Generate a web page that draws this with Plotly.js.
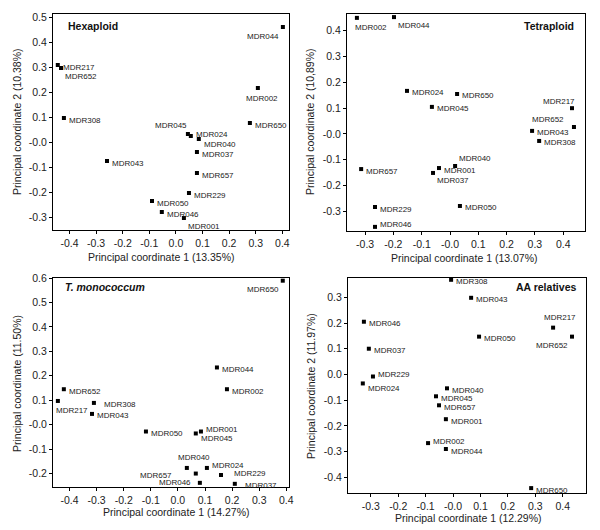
<!DOCTYPE html>
<html>
<head>
<meta charset="utf-8">
<script src="https://cdn.plot.ly/plotly-3.0.1.min.js"></script>
<style>html,body{margin:0;padding:0;background:#fff;}#chart{width:600px;height:530px;}</style>
</head>
<body>
<div id="chart"></div>
<script>
// ---------- DATA ----------
// Hexaploid
const hexNames = ["MDR044","MDR217","MDR652","MDR308","MDR002","MDR650","MDR045","MDR024","MDR040","MDR037","MDR043","MDR657","MDR229","MDR050","MDR046","MDR001"];
const hexX = [0.402,-0.444,-0.432,-0.421,0.308,0.278,0.045,0.056,0.086,0.079,-0.259,0.079,0.049,-0.090,-0.053,0.030];
const hexY = [0.462,0.310,0.298,0.098,0.218,0.078,0.034,0.026,0.014,-0.038,-0.074,-0.122,-0.202,-0.234,-0.278,-0.302];
const hexLabelPos = ["bl","r","br","r","b","r","al","ru","rd","r","r","r","r","r","r","br"];

// Tetraploid
const tetNames = ["MDR002","MDR044","MDR024","MDR650","MDR045","MDR217","MDR652","MDR043","MDR308","MDR040","MDR001","MDR037","MDR657","MDR229","MDR050","MDR046"];
const tetX = [-0.329,-0.198,-0.152,0.025,-0.064,0.431,0.438,0.290,0.315,0.018,-0.039,-0.060,-0.314,-0.265,0.035,-0.265];
const tetY = [0.450,0.453,0.167,0.155,0.105,0.100,0.027,0.012,-0.027,-0.124,-0.132,-0.151,-0.136,-0.283,-0.279,-0.360];
const tetLabelPos = ["bc","br","r","r","r","ar2","ul","r","r","ar","r","br","r","r","r","ru"];

// T. monococcum
const monNames = ["MDR650","MDR044","MDR652","MDR002","MDR217","MDR308","MDR043","MDR050","MDR001","MDR045","MDR040","MDR024","MDR657","MDR229","MDR046","MDR037"];
const monX = [0.387,0.144,-0.421,0.181,-0.443,-0.310,-0.317,-0.118,0.085,0.066,0.033,0.107,0.066,0.159,0.081,0.210];
const monY = [0.589,0.234,0.145,0.145,0.097,0.089,0.044,-0.028,-0.028,-0.036,-0.177,-0.177,-0.200,-0.206,-0.238,-0.242];
const monLabelPos = ["bl","r","r","r","bc","rr","r","r","ru","rd","a","ru","ll","rru","lg","rr"];

// AA relatives
const aaNames = ["MDR308","MDR043","MDR217","MDR652","MDR046","MDR050","MDR037","MDR229","MDR024","MDR040","MDR045","MDR657","MDR001","MDR002","MDR044","MDR650"];
const aaX = [-0.007,0.066,0.365,0.434,-0.325,0.095,-0.307,-0.292,-0.329,-0.022,-0.062,-0.051,-0.026,-0.091,-0.026,0.285];
const aaY = [0.368,0.298,0.182,0.147,0.205,0.147,0.100,-0.008,-0.035,-0.054,-0.085,-0.120,-0.174,-0.267,-0.290,-0.442];
const aaLabelPos = ["r","r","a","bl","r","r","r","ru","rd","r","r","r","r","ru","r","r"];

// Tick labels
const hexXTicks = [-0.4,-0.3,-0.2,-0.1,0.0,0.1,0.2,0.3,0.4];
const hexXText  = ["-0.4","-0.3","-0.2","-0.1","0.0","0.1","0.2","0.3","0.4"];
const hexYTicks = [0.5,0.4,0.3,0.2,0.1,0.0,-0.1,-0.2,-0.3];
const hexYText  = ["0.5","0.4","0.3","0.2","0.1","-0.0","-0.1","-0.2","-0.3"];
const tetXTicks = [-0.3,-0.2,-0.1,0.0,0.1,0.2,0.3,0.4];
const tetXText  = ["-0.3","-0.2","-0.1","-0.0","0.1","0.2","0.3","0.4"];
const tetYTicks = [0.4,0.3,0.2,0.1,0.0,-0.1,-0.2,-0.3];
const tetYText  = ["0.4","0.3","0.2","0.1","-0.0","-0.1","-0.2","-0.3"];
const monXTicks = [-0.4,-0.3,-0.2,-0.1,0.0,0.1,0.2,0.3,0.4];
const monXText  = ["-0.4","-0.3","-0.2","-0.1","0.0","0.1","0.2","0.3","0.4"];
const monYTicks = [0.6,0.5,0.4,0.3,0.2,0.1,0.0,-0.1,-0.2];
const monYText  = ["0.6","0.5","0.4","0.3","0.2","0.1","-0.0","-0.1","-0.2"];
const aaXTicks = [-0.3,-0.2,-0.1,0.0,0.1,0.2,0.3,0.4];
const aaXText  = ["-0.3","-0.2","-0.1","-0.0","0.1","0.2","0.3","0.4"];
const aaYTicks = [0.3,0.2,0.1,0.0,-0.1,-0.2,-0.3,-0.4];
const aaYText  = ["0.3","0.2","0.1","0.0","-0.1","-0.2","-0.3","-0.4"];

// ---------- STYLE ----------
const FONT = "Liberation Sans, Arial, sans-serif";
const W = 600, H = 530;
const px = v => v / W;
const py = v => 1 - v / H;

const placements = {
  r:   {xanchor:"left",  xshift:3,   yshift:-2},
  rd:  {xanchor:"left",  xshift:3,   yshift:-5},
  ru:  {xanchor:"left",  xshift:3,   yshift:2},
  rr:  {xanchor:"left",  xshift:8,   yshift:-2},
  rru: {xanchor:"left",  xshift:11,  yshift:2},
  br:  {xanchor:"left",  xshift:2,   yshift:-8},
  bl:  {xanchor:"right", xshift:-2,  yshift:-9},
  bc:  {xanchor:"left",  xshift:-4,  yshift:-10},
  b:   {xanchor:"center",xshift:4,   yshift:-10},
  al:  {xanchor:"right", xshift:1,   yshift:9},
  ar:  {xanchor:"left",  xshift:2,   yshift:7},
  ar2: {xanchor:"right", xshift:5,   yshift:7},
  a:   {xanchor:"center",xshift:7,   yshift:10},
  ul:  {xanchor:"right", xshift:-8,  yshift:8},
  ll:  {xanchor:"right", xshift:-22, yshift:-2},
  lg:  {xanchor:"right", xshift:-7,  yshift:0}
};

const panels = [
  {n:"", names:hexNames, x:hexX, y:hexY, pos:hexLabelPos,
   xd:[53,289], yd:[14,230], xr:[-0.462,0.425], yr:[-0.35,0.514],
   xt:hexXTicks, xtt:hexXText, yt:hexYTicks, ytt:hexYText,
   xtitle:"Principal coordinate 1 (13.35%)", xtpos:[161,257],
   ytitle:"Principal coordinate 2 (10.38%)", ytpos:[17,122],
   title:"<b>Hexaploid</b>", tpos:[66,26], tanchor:"left"},
  {n:"2", names:tetNames, x:tetX, y:tetY, pos:tetLabelPos,
   xd:[347,585], yd:[14,231], xr:[-0.364,0.477], yr:[-0.376,0.465],
   xt:tetXTicks, xtt:tetXText, yt:tetYTicks, ytt:tetYText,
   xtitle:"Principal coordinate 1 (13.07%)", xtpos:[464,258],
   ytitle:"Principal coordinate 2 (10,89%)", ytpos:[310,122],
   title:"<b>Tetraploid</b>", tpos:[576,26], tanchor:"right"},
  {n:"3", names:monNames, x:monX, y:monY, pos:monLabelPos,
   xd:[53,289], yd:[278,487], xr:[-0.461,0.41], yr:[-0.255,0.6],
   xt:monXTicks, xtt:monXText, yt:monYTicks, ytt:monYText,
   xtitle:"Principal coordinate 1 (14.27%)", xtpos:[176,512],
   ytitle:"Principal coordinate (11.50%)", ytpos:[17,384],
   title:"<b><i>T. monococcum</i></b>", tpos:[63,287], tanchor:"left"},
  {n:"4", names:aaNames, x:aaX, y:aaY, pos:aaLabelPos,
   xd:[348,586], yd:[278,493], xr:[-0.383,0.485], yr:[-0.461,0.375],
   xt:aaXTicks, xtt:aaXText, yt:aaYTicks, ytt:aaYText,
   xtitle:"Principal coordinate 1 (12.29%)", xtpos:[468,518],
   ytitle:"Principal coordinate 2 (11.97%)", ytpos:[311,386],
   title:"<b>AA relatives</b>", tpos:[578,287], tanchor:"right"}
];

const traces = [];
const annotations = [];
const layout = {
  width: W, height: H,
  margin: {l:0, r:0, t:0, b:0},
  paper_bgcolor: "#fff", plot_bgcolor: "#fff",
  showlegend: false,
  font: {family: FONT, color: "#222", size: 10}
};

panels.forEach(p => {
  const xa = "xaxis" + p.n, ya = "yaxis" + p.n;
  const xref = "x" + p.n, yref = "y" + p.n;
  traces.push({
    type: "scatter", mode: "markers",
    x: p.x, y: p.y, xaxis: xref, yaxis: yref,
    cliponaxis: false, hoverinfo: "skip",
    marker: {symbol: "square", size: 4, color: "#000"}
  });
  const axBase = {
    showgrid: false, zeroline: false,
    showline: true, linecolor: "#000", linewidth: 1, mirror: true,
    ticks: "outside", ticklen: 3, tickcolor: "#000", tickwidth: 1,
    tickmode: "array",
    tickfont: {family: FONT, size: 10.5, color: "#222"}
  };
  layout[xa] = Object.assign({}, axBase, {
    domain: [px(p.xd[0]), px(p.xd[1])], range: p.xr,
    tickvals: p.xt, ticktext: p.xtt, anchor: yref
  });
  layout[ya] = Object.assign({}, axBase, {
    domain: [py(p.yd[1]), py(p.yd[0])], range: p.yr,
    tickvals: p.yt, ticktext: p.ytt, anchor: xref
  });
  // point labels
  p.names.forEach((nm, i) => {
    const pl = placements[p.pos[i]];
    annotations.push({
      xref: xref, yref: yref, x: p.x[i], y: p.y[i],
      text: nm, showarrow: false,
      xanchor: pl.xanchor, yanchor: "middle",
      xshift: pl.xshift, yshift: pl.yshift,
      font: {family: FONT, size: 8, color: "#222"}
    });
  });
  // axis titles
  annotations.push({
    xref: "paper", yref: "paper", x: px(p.xtpos[0]), y: py(p.xtpos[1]),
    text: p.xtitle, showarrow: false, xanchor: "center", yanchor: "middle",
    font: {family: FONT, size: 10.5, color: "#222"}
  });
  annotations.push({
    xref: "paper", yref: "paper", x: px(p.ytpos[0]), y: py(p.ytpos[1]),
    text: p.ytitle, showarrow: false, textangle: -90,
    xanchor: "center", yanchor: "middle",
    font: {family: FONT, size: 10.5, color: "#222"}
  });
  // panel title
  annotations.push({
    xref: "paper", yref: "paper", x: px(p.tpos[0]), y: py(p.tpos[1]),
    text: p.title, showarrow: false, xanchor: p.tanchor, yanchor: "middle",
    font: {family: FONT, size: 10.5, color: "#111"}
  });
});

layout.annotations = annotations;
Plotly.newPlot("chart", traces, layout, {displayModeBar: false, staticPlot: true});
</script>
</body>
</html>
